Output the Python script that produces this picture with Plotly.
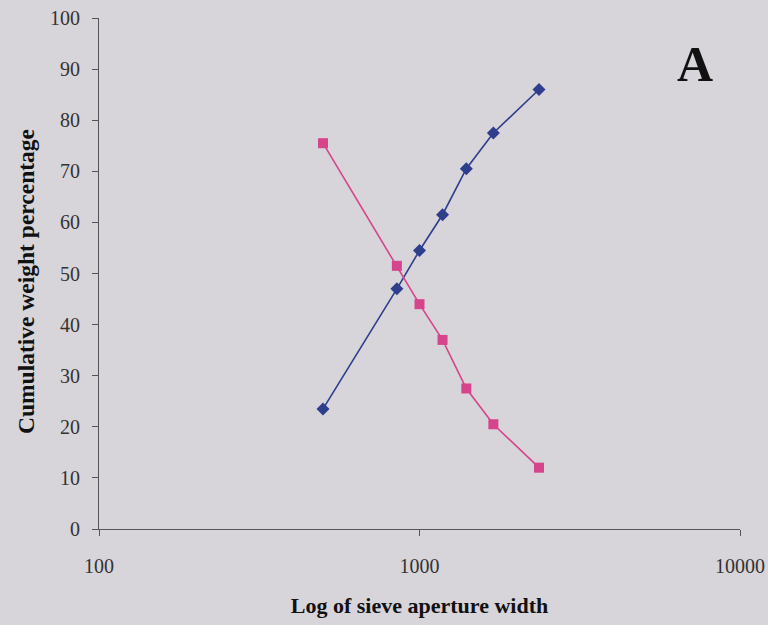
import plotly.graph_objects as go

# Sieve aperture widths (micrometres)
aperture = [500, 850, 1000, 1180, 1400, 1700, 2360]

# Cumulative weight percentages
cum_passing = [23.5, 47.0, 54.5, 61.5, 70.5, 77.5, 86.0]
cum_retained = [75.5, 51.5, 44.0, 37.0, 27.5, 20.5, 12.0]

y_ticks = list(range(0, 101, 10))
x_ticks = [100, 1000, 10000]
x_tick_text = ["100", "1000", "10000"]

serif = "Liberation Serif, Times New Roman, serif"
bg = "#d7d4da"
axis_col = "#555555"

# plot area in pixels
L, R, T, B = 99, 740, 18, 529
W, H = 768, 625

fig = go.Figure()

fig.add_trace(go.Scatter(
    x=aperture, y=cum_passing, mode="lines+markers",
    line=dict(color="#2f3e8c", width=1.6),
    marker=dict(symbol="diamond", size=10, color="#2f3e8c"),
    showlegend=False,
))
fig.add_trace(go.Scatter(
    x=aperture, y=cum_retained, mode="lines+markers",
    line=dict(color="#d6448c", width=1.6),
    marker=dict(symbol="square", size=10, color="#d6448c"),
    showlegend=False,
))

# panel letter
fig.add_annotation(
    text="<b>A</b>", xref="paper", yref="paper",
    x=(695 - L) / (R - L), y=(B - 64) / (B - T),
    xanchor="center", yanchor="middle", showarrow=False,
    font=dict(family=serif, size=50, color="#111111"),
)

# vertical axis title
fig.add_annotation(
    text="<b>Cumulative weight percentage</b>", xref="paper", yref="paper",
    x=0, xshift=26 - L, y=(B - 282) / (B - T),
    xanchor="center", yanchor="middle", textangle=-90, showarrow=False,
    font=dict(family=serif, size=23.5, color="#111111"),
)

fig.update_layout(
    width=W, height=H,
    margin=dict(l=L, r=W - R, t=T, b=H - B, autoexpand=False),
    paper_bgcolor=bg, plot_bgcolor=bg,
    font=dict(family=serif, color="#333333"),
    xaxis=dict(
        type="log", range=[2, 4], automargin=False,
        tickvals=x_ticks, ticktext=x_tick_text,
        ticks="outside", ticklen=6, tickcolor=axis_col,
        showline=True, linecolor=axis_col, linewidth=1,
        showgrid=False, zeroline=False,
        tickfont=dict(family=serif, size=20, color="#333333"),
        ticklabelstandoff=13,
        title=dict(text="<b>Log of sieve aperture width</b>",
                   font=dict(family=serif, size=22, color="#111111"),
                   standoff=21),
    ),
    yaxis=dict(
        range=[0, 100], tickvals=y_ticks, automargin=False,
        ticks="outside", ticklen=6, tickcolor=axis_col,
        showline=True, linecolor=axis_col, linewidth=1,
        showgrid=False, zeroline=False,
        tickfont=dict(family=serif, size=20, color="#333333"),
        ticklabelstandoff=8,
    ),
)

fig.write_html("out.html")
